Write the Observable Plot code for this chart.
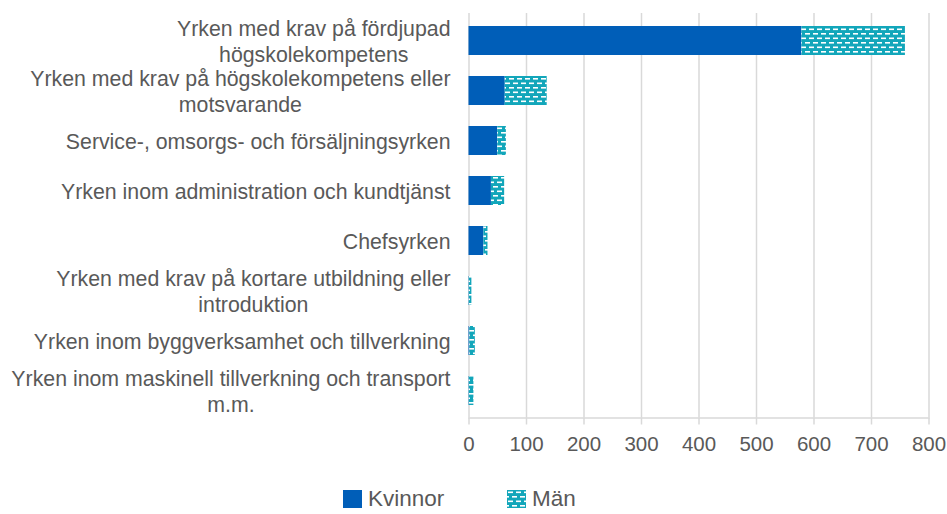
<!DOCTYPE html>
<html>
<head>
<meta charset="utf-8">
<script src="https://cdn.jsdelivr.net/npm/d3@7"></script>
<script src="https://cdn.jsdelivr.net/npm/@observablehq/plot@0.6"></script>
<style>
  body { margin: 0; background: #fff; font-family: "Liberation Sans", Arial, sans-serif; }
  #chart { position: relative; width: 947px; }
  .legend { position: relative; width: 947px; height: 49px; }
  .legend .item { position: absolute; top: 21px; display: flex; align-items: center; font-size: 22.5px; color: #595959; }
  .legend svg { margin-right: 6px; }
</style>
</head>
<body>
<div id="chart"></div>
<script>
const categories = [
  "Yrken med krav på fördjupad högskolekompetens",
  "Yrken med krav på högskolekompetens eller motsvarande",
  "Service-, omsorgs- och försäljningsyrken",
  "Yrken inom administration och kundtjänst",
  "Chefsyrken",
  "Yrken med krav på kortare utbildning eller introduktion",
  "Yrken inom byggverksamhet och tillverkning",
  "Yrken inom maskinell tillverkning och transport m.m."
];
const labels = [
  "Yrken med krav på fördjupad\nhögskolekompetens",
  "Yrken med krav på högskolekompetens eller\nmotsvarande",
  "Service-, omsorgs- och försäljningsyrken",
  "Yrken inom administration och kundtjänst",
  "Chefsyrken",
  "Yrken med krav på kortare utbildning eller\nintroduktion",
  "Yrken inom byggverksamhet och tillverkning",
  "Yrken inom maskinell tillverkning och transport\nm.m."
];
const series = ["Kvinnor", "Män"];
const kvinnor = [579, 63, 50, 39, 26, 0.5, 1.5, 0.5];
const man = [180, 73, 15, 23, 7, 4.5, 9.5, 8];
const xTicks = [0, 100, 200, 300, 400, 500, 600, 700, 800];

const data = [];
categories.forEach((c, i) => {
  data.push({cat: c, series: "Kvinnor", value: kvinnor[i]});
  data.push({cat: c, series: "Män", value: man[i]});
});
const labelOf = new Map(categories.map((c, i) => [c, labels[i]]));

const blue = "#005EB8";
const teal = "#12A6BA";

const plot = Plot.plot({
  width: 947,
  height: 465,
  marginTop: 13,
  marginBottom: 47.5,
  marginLeft: 468.5,
  marginRight: 18.5,
  style: {fontFamily: "'Liberation Sans', Arial, sans-serif", background: "#fff", overflow: "visible"},
  x: {domain: [0, 800], ticks: xTicks},
  y: {domain: categories, paddingInner: 0.425, paddingOuter: 0.2125},
  color: {domain: series, range: [blue, "url(#manPat)"]},
  marks: [
    Plot.gridX(xTicks, {stroke: "#d9d9d9", strokeOpacity: 1, strokeWidth: 1.5}),
    Plot.frame({anchor: "bottom", stroke: "#d9d9d9", strokeWidth: 1.5}),
    Plot.axisX(xTicks, {tickSize: 7, tickPadding: 11, stroke: "#d9d9d9", strokeWidth: 1.5, fontSize: 20.5, fill: "#595959", label: null, tickFormat: d => String(d)}),
    Plot.axisY({tickSize: 0, tickPadding: 18.5, fontSize: 21.3, fill: "#595959", lineHeight: 1.18, label: null, tickFormat: d => labelOf.get(d)}),
    Plot.barX(data, Plot.stackX({x: "value", y: "cat", fill: "series", order: series}))
  ]
});

const ns = "http://www.w3.org/2000/svg";
function addPattern(svg, id) {
  const defs = document.createElementNS(ns, "defs");
  defs.innerHTML = `<pattern id="${id}" patternUnits="userSpaceOnUse" width="8" height="9">
    <rect width="8" height="9" fill="${teal}"/>
    <rect x="1" y="1.5" width="5" height="1.6" fill="#fff"/>
    <rect x="5" y="6" width="5" height="1.6" fill="#fff"/>
    <rect x="-3" y="6" width="5" height="1.6" fill="#fff"/>
  </pattern>`;
  svg.insertBefore(defs, svg.firstChild);
}
addPattern(plot, "manPat");
document.getElementById("chart").appendChild(plot);

// center multi-line tick labels within their block (Excel-style)
plot.querySelectorAll("text").forEach(t => {
  const spans = Array.from(t.querySelectorAll("tspan"));
  if (spans.length > 1) {
    const widths = spans.map(s => s.getComputedTextLength());
    const maxW = Math.max(...widths);
    spans.forEach((s, i) => {
      s.setAttribute("text-anchor", "end");
      s.setAttribute("x", -(maxW - widths[i]) / 2);
    });
  }
});

// legend
const legend = document.createElement("div");
legend.className = "legend";
const items = [
  {name: "Kvinnor", left: 343, fill: blue},
  {name: "Män", left: 507, fill: "url(#legPat)"}
];
items.forEach(it => {
  const d = document.createElement("div");
  d.className = "item";
  d.style.left = it.left + "px";
  const sw = document.createElementNS(ns, "svg");
  sw.setAttribute("width", 19);
  sw.setAttribute("height", 18);
  if (it.name === "Män") addPattern(sw, "legPat");
  const r = document.createElementNS(ns, "rect");
  r.setAttribute("width", 19);
  r.setAttribute("height", 18);
  r.setAttribute("fill", it.fill);
  sw.appendChild(r);
  d.appendChild(sw);
  const s = document.createElement("span");
  s.textContent = it.name;
  d.appendChild(s);
  legend.appendChild(d);
});
document.getElementById("chart").appendChild(legend);
</script>
</body>
</html>
